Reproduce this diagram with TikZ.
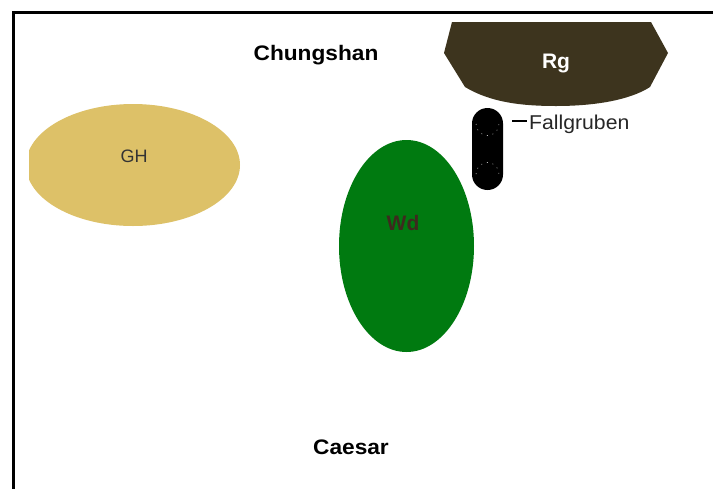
\documentclass[tikz,border=0pt]{standalone}
\usepackage{fontspec}
\setmainfont{Liberation Sans}
\definecolor{gold}{RGB}{221,193,104}
\definecolor{wdgreen}{RGB}{0,122,16}
\definecolor{rgbrown}{RGB}{61,52,30}
\definecolor{wdtext}{RGB}{62,42,30}
\newcommand{\wide}[1]{\scalebox{1.08}[1]{#1}}
\begin{document}
\begin{tikzpicture}[x=1pt,y=-1pt,
  lbl/.style={font=\fontsize{21}{23}\selectfont\bfseries, inner sep=0pt},
  small/.style={font=\fontsize{18}{20}\selectfont, inner sep=0pt},
  note/.style={font=\fontsize{20}{22}\selectfont, inner sep=0pt}]
\useasboundingbox (0,0) rectangle (713,488);
\fill[white] (0,0) rectangle (713,488);
% frame
\draw[line width=3pt] (13,490) -- (13,12) -- (715,12);
% GH
\begin{scope}
\clip (29,90) rectangle (260,240);
\fill[gold] (133,165) ellipse [x radius=107, y radius=61];
\end{scope}
\node[small, text=black!80] (gh) at (134,156) {GH};
% Wd
\fill[wdgreen] (406.5,246) ellipse [x radius=67.5, y radius=106];
\node[lbl, text=wdtext] (wd) at (403,223) {Wd};
% Rg
\fill[rgbrown] (452,22) -- (651,22) -- (668,53) -- (650,87)
  .. controls (630,100) and (595,106) .. (556,106)
  .. controls (520,106) and (490,102) .. (465,87) -- (444,53) -- cycle;
\node[lbl, text=white] (rg) at (556,63) {Rg};
% Fallgruben pit
\fill[black, rounded corners=15.5pt] (472,108) rectangle (503,190);
\draw[white, line width=0.5pt, dash pattern=on 0.8pt off 5pt] (476,124) arc[start angle=180, end angle=0, radius=11.5];
\draw[white, line width=0.5pt, dash pattern=on 0.8pt off 5pt] (476,174) arc[start angle=180, end angle=360, radius=11.5];
\coordinate (fg) at (512,121);
\draw[line width=2pt] (fg) -- ++(15,0);
\node[note, anchor=west, text=black!85] (fall) at (529,124) {\scalebox{1.06}[1]{Fallgruben}};
% labels
\node[lbl] (chung) at (316,55) {\wide{Chungshan}};
\node[lbl] (caesar) at (351,447) {\wide{Caesar}};
\end{tikzpicture}
\end{document}
